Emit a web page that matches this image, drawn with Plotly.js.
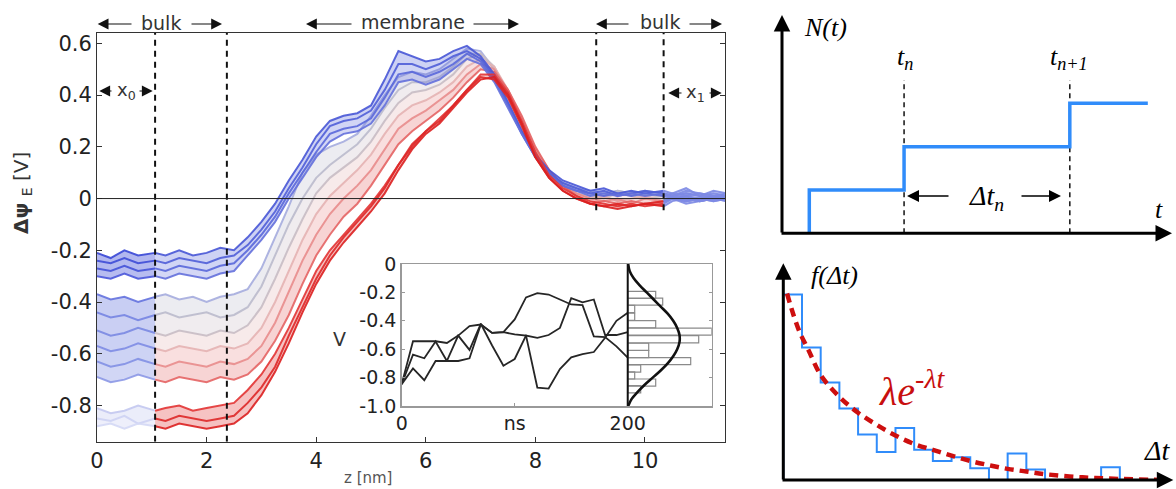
<!DOCTYPE html>
<html><head><meta charset="utf-8">
<script src="https://cdn.plot.ly/plotly-3.0.1.min.js"></script>
<style>html,body{margin:0;padding:0;background:#fff}#plot{width:1176px;height:489px}</style>
</head><body><div id="plot"></div>
<script>
// ================= DATA =================
// main panel: potential profiles along z [nm]
const zGrid = [0,0.25,0.5,0.75,1.06,1.25,1.5,1.75,2,2.25,2.5,2.75,3,3.25,3.5,3.75,4,4.25,4.5,4.75,5,5.25,5.5,5.75,6,6.25,6.5,6.75,7,7.25,7.5,7.75,8,8.25,8.5,8.75,9,9.25,9.5,9.75,10,10.34,10.5,10.75,11,11.25,11.5];
const curveB1 = [-0.21,-0.23,-0.20,-0.22,-0.21, -0.22,-0.20,-0.22,-0.21,-0.19,-0.20, -0.15,-0.09,-0.02,0.07, 0.15,0.24,0.30,0.32, 0.33,0.36,0.46,0.57, 0.55,0.53,0.54,0.57, 0.59,0.55,0.48,0.37, 0.26,0.17,0.11,0.07, 0.05,0.03,0.04,0.02, 0.03,0.02,0.03,0.02, 0.04,0.01,0.03,0.02];
const curveB2 = [-0.24,-0.25,-0.23,-0.25,-0.24, -0.25,-0.23,-0.24,-0.25,-0.23,-0.22, -0.18,-0.12,-0.05,0.04, 0.12,0.21,0.28,0.30, 0.31,0.34,0.42,0.52, 0.52,0.50,0.52,0.55, 0.57,0.54,0.47,0.37, 0.26,0.17,0.10,0.06, 0.04,0.02,0.03,0.01, 0.02,0.03,0.02,0.01, 0.03,0.02,0.01,0.02];
const curveB3 = [-0.27,-0.28,-0.26,-0.28,-0.27, -0.28,-0.26,-0.27,-0.28,-0.26,-0.25, -0.20,-0.14,-0.07,0.02, 0.10,0.18,0.25,0.27, 0.28,0.31,0.39,0.48, 0.49,0.47,0.49,0.52, 0.56,0.53,0.46,0.36, 0.25,0.16,0.10,0.05, 0.03,0.02,0.01,0.02, 0.01,0.02,0.01,0.02, 0.01,0.02,0.01,0.01];
const curveB4 = [-0.30,-0.31,-0.29,-0.31,-0.30, -0.31,-0.29,-0.30,-0.31,-0.29,-0.28, -0.22,-0.16,-0.09,0.00, 0.08,0.16,0.22,0.25, 0.26,0.29,0.36,0.45, 0.46,0.44,0.46,0.50, 0.54,0.52,0.45,0.35, 0.25,0.16,0.09,0.05, 0.03,0.01,0.02,0.01, 0.02,0.01,0.02,0.01, 0.02,0.01,0.00,0.01];
const curveG1 = [-0.37,-0.39,-0.38,-0.40,-0.38, -0.37,-0.39,-0.38,-0.40,-0.38,-0.37, -0.35,-0.27,-0.15,-0.03, 0.10,0.17,0.20,0.22, 0.25,0.32,0.40,0.47, 0.49,0.48,0.50,0.54, 0.58,0.57,0.50,0.38, 0.26,0.16,0.10,0.06, 0.04,0.03,0.02,0.03, 0.02,0.03,0.02,0.01, 0.02,0.01,0.02,0.01];
const curveG2 = [-0.44,-0.46,-0.45,-0.47,-0.45, -0.44,-0.46,-0.45,-0.44,-0.46,-0.45, -0.42,-0.34,-0.22,-0.10, 0.00,0.08,0.13,0.17, 0.21,0.27,0.35,0.42, 0.45,0.45,0.47,0.51, 0.56,0.56,0.50,0.39, 0.27,0.17,0.10,0.06, 0.03,0.02,0.01,0.03, 0.02,0.01,0.02,0.00, 0.01,0.00,0.01,0.00];
const curveG3 = [-0.51,-0.53,-0.52,-0.50,-0.52, -0.53,-0.51,-0.52,-0.53,-0.51,-0.52, -0.49,-0.42,-0.31,-0.19, -0.08,0.02,0.08,0.12, 0.16,0.22,0.30,0.37, 0.41,0.42,0.44,0.48, 0.54,0.56,0.51,0.41, 0.29,0.18,0.11,0.05, 0.02,0.01,0.00,0.02, 0.01,0.00,0.01,0.00, -0.01,0.00,0.01,-0.01];
const curveP1 = [-0.57,-0.59,-0.58,-0.56,-0.58, -0.59,-0.57,-0.58,-0.59,-0.57,-0.58, -0.56,-0.50,-0.40,-0.28, -0.16,-0.06,0.01,0.06, 0.11,0.17,0.25,0.32, 0.36,0.38,0.41,0.45, 0.51,0.54,0.51,0.42, 0.30,0.19,0.11,0.05, 0.02,0.00,0.01,-0.01, 0.00,0.01,-0.01,0.00, 0.01,-0.01,0.00,0.01];
const curveP2 = [-0.63,-0.65,-0.64,-0.62,-0.64, -0.65,-0.63,-0.64,-0.65,-0.63,-0.64, -0.62,-0.57,-0.48,-0.36, -0.24,-0.14,-0.06,0.00, 0.05,0.11,0.19,0.27, 0.31,0.34,0.38,0.42, 0.48,0.52,0.50,0.42, 0.31,0.19,0.11,0.05, 0.02,0.00,-0.01,0.00, -0.02,0.00,-0.01,0.00, -0.01,0.00,-0.01,0.00];
const curveP3 = [-0.69,-0.71,-0.70,-0.68,-0.70, -0.71,-0.69,-0.70,-0.71,-0.69,-0.70, -0.68,-0.63,-0.55,-0.45, -0.33,-0.22,-0.14,-0.07, -0.02,0.05,0.13,0.21, 0.26,0.30,0.34,0.39, 0.45,0.50,0.49,0.42, 0.32,0.20,0.11,0.05, 0.01,-0.02,-0.01,-0.02, -0.01,-0.02,-0.01,0.00, -0.02,-0.01,0.00,-0.01];
const curveR1 = [-0.81,-0.83,-0.82,-0.80,-0.82, -0.81,-0.80,-0.82,-0.81,-0.80,-0.79, -0.74,-0.68,-0.60,-0.50, -0.39,-0.28,-0.20,-0.14, -0.08,-0.02,0.05,0.13, 0.20,0.26,0.31,0.36, 0.42,0.48,0.48,0.41, 0.30,0.18,0.09,0.04, 0.01,-0.01,-0.02,-0.03, -0.02,-0.03,-0.02,0.00, -0.01,0.00,-0.01,0.00];
const curveR2 = [-0.85,-0.86,-0.84,-0.87,-0.85, -0.86,-0.84,-0.85,-0.86,-0.85,-0.84, -0.79,-0.73,-0.65,-0.53, -0.42,-0.31,-0.22,-0.15, -0.09,-0.03,0.04,0.13, 0.21,0.26,0.30,0.36, 0.42,0.47,0.46,0.39, 0.28,0.16,0.08,0.03, 0.00,-0.02,-0.03,-0.02, -0.03,-0.02,-0.01,0.01, 0.00,-0.01,0.00,0.01];
const curveR3 = [-0.88,-0.87,-0.89,-0.87,-0.88, -0.89,-0.87,-0.88,-0.89,-0.88,-0.87, -0.83,-0.76,-0.67,-0.56, -0.44,-0.33,-0.24,-0.17, -0.11,-0.05,0.02,0.11, 0.19,0.25,0.29,0.35, 0.41,0.46,0.47,0.40, 0.29,0.16,0.08,0.03, 0.00,-0.02,-0.03,-0.04, -0.03,-0.02,-0.03,-0.01, 0.00,-0.01,0.00,-0.01];
const regionBounds = [1.06, 2.37, 9.11, 10.34];
const regionLineBottoms = [-0.94, -0.94, -0.045, -0.045];
const mainXTicks = [0,2,4,6,8,10];
const mainYTicks = [-0.8,-0.6,-0.4,-0.2,0,0.2,0.4,0.6];
const mainYTickText = ['-0.8','-0.6','-0.4','-0.2','0','0.2','0.4','0.6'];

// inset: three runs vs time [ns] and histogram of V
const insetNs = [0,10,20,30,40,50,60,70,80,90,100,110,120,130,140,150,160,170,180,190,200];
const insetRunA = [-0.846,-0.544,-0.544,-0.544,-0.556,-0.504,-0.437,-0.426,-0.485,-0.480,-0.39,-0.235,-0.205,-0.215,-0.25,-0.285,-0.29,-0.51,-0.515,-0.58,-0.66];
const insetRunB = [-0.846,-0.638,-0.664,-0.546,-0.683,-0.504,-0.605,-0.421,-0.574,-0.716,-0.669,-0.504,-0.52,-0.50,-0.45,-0.24,-0.27,-0.25,-0.50,-0.50,-0.48];
const insetRunC = [-0.846,-0.735,-0.818,-0.683,-0.683,-0.683,-0.664,-0.426,-0.485,-0.48,-0.496,-0.504,-0.87,-0.877,-0.74,-0.657,-0.634,-0.62,-0.52,-0.40,-0.343];
const insetBinCenters = [-0.218,-0.265,-0.317,-0.372,-0.424,-0.476,-0.530,-0.583,-0.634,-0.684,-0.736,-0.785,-0.835,-0.882];
const insetBinCounts = [28,35,7,7,28,84,71,21,21,63,13,7,28,13];
const insetFitV = [0,-0.05,-0.1,-0.15,-0.2,-0.25,-0.3,-0.35,-0.4,-0.45,-0.5,-0.55,-0.6,-0.65,-0.7,-0.75,-0.8,-0.85,-0.9,-0.95,-1.0];
const insetFitX = [0.5,2,6,12,19,26,33,40,45.5,49.5,51.8,51.8,49.5,45.5,40,33,25,17,10,4,0.5];
const insetXTicks = [0,100,200];
const insetXTickText = ['0','ns','200'];
const insetYTicks = [0,-0.2,-0.4,-0.6,-0.8,-1.0];
const insetYTickText = ['0','-0.2','-0.4','-0.6','-0.8','-1.0'];

// right top: counting process N(t)
const eventTimes = [0.70, 3.13, 7.38];
const stepLevels = [1, 2, 3];
const stepEnd = 9.38;

// right bottom: waiting-time histogram and exponential fit
const histCounts = [35.0,25.0,18.4,13.5,8.6,5.3,9.8,5.7,3.6,4.3,2.2,0,5.0,2.0,0,0,0,2.4];
const fitT = [0.2,0.55,0.9,1.35,2,3,4,5,6,7,8,9,10,11,12,13,14,16,18,20.2];
const fitF = [35.2,31.1,27.7,24.5,19.8,15.7,12.7,10.4,8.4,6.8,5.7,4.6,3.6,2.8,2.1,1.6,1.1,0.5,0.2,0];

// ================= DRAWING =================
const W = 1176, H = 489;
const SANS = 'DejaVu Sans, Open Sans, sans-serif';
const SERIF = 'Liberation Serif, DejaVu Serif, serif';
const fx = p => p / W, fy = p => 1 - p / H;

const curveData = {B1:curveB1,B2:curveB2,B3:curveB3,B4:curveB4,G1:curveG1,G2:curveG2,G3:curveG3,P1:curveP1,P2:curveP2,P3:curveP3,R1:curveR1,R2:curveR2,R3:curveR3};
const lineStyle = {
  B1:{main:[72,86,214],left:[58,72,214]}, B2:{main:[80,94,216],left:[62,76,214]},
  B3:{main:[90,104,218],left:[68,82,216]}, B4:{main:[100,112,220],left:[75,88,218]},
  G1:{main:[165,172,222],left:[100,114,222]}, G2:{main:[186,186,204],left:[118,132,226]},
  G3:{main:[200,188,196],left:[122,136,226]}, P1:{main:[228,178,178],left:[126,140,228]},
  P2:{main:[232,140,140],left:[130,144,228]}, P3:{main:[228,100,100],left:[140,152,230]},
  R1:{main:[226,52,52],left:[195,200,240]}, R2:{main:[222,40,40],left:[205,209,243]},
  R3:{main:[220,32,32],left:[212,216,245]}
};
const rightCol = [125,138,228];
const segs = {left:[0,4], main:[4,41], right:[41,46]};
const drawOrder = [['G1','G2','G3','P1','P2','P3'], ['B1','B2','B3','B4'], ['R1','R2','R3']];
const rgba = (c,a) => `rgba(${c[0]},${c[1]},${c[2]},${a})`;

const traces = [];
drawOrder.forEach(grp => {
  ['left','main','right'].forEach(seg => {
    grp.forEach((name,k) => {
      const [a,b] = segs[seg];
      const c = seg === 'right' ? rightCol : lineStyle[name][seg];
      traces.push({
        type:'scatter', mode:'lines', xaxis:'x', yaxis:'y',
        x: zGrid.slice(a,b+1), y: curveData[name].slice(a,b+1),
        line:{color: rgba(c, 0.9), width: 2},
        fill: k === 0 ? 'none' : 'tonexty',
        fillcolor: rgba(c, seg === 'main' ? 0.28 : 0.4),
        hoverinfo:'skip', showlegend:false
      });
    });
  });
});

// inset runs
[insetRunA, insetRunB, insetRunC].forEach(r => traces.push({
  type:'scatter', mode:'lines', xaxis:'x2', yaxis:'y2', x: insetNs, y: r,
  line:{color:'#262626', width:1.8}, hoverinfo:'skip', showlegend:false
}));
// inset histogram
traces.push({
  type:'bar', orientation:'h', xaxis:'x3', yaxis:'y2', y: insetBinCenters, x: insetBinCounts,
  width: 0.05, marker:{color:'rgba(255,255,255,0)', line:{color:'#8a8a8a', width:1.2}},
  hoverinfo:'skip', showlegend:false
});
traces.push({
  type:'scatter', mode:'lines', xaxis:'x3', yaxis:'y2', x: insetFitX, y: insetFitV,
  line:{color:'#111', width:2.6, shape:'spline'}, hoverinfo:'skip', showlegend:false
});

// step function N(t)
traces.push({
  type:'scatter', mode:'lines', xaxis:'x4', yaxis:'y4',
  x: [eventTimes[0], ...eventTimes, stepEnd], y: [0, ...stepLevels, stepLevels[stepLevels.length-1]],
  line:{color:'rgb(48,140,250)', width:3.5, shape:'hv'}, hoverinfo:'skip', showlegend:false
});

// histogram outline of waiting times
const histX = [0], histY = [0];
histCounts.forEach((c,i) => { histX.push(i); histY.push(c); });
histX.push(histCounts.length); histY.push(0);
traces.push({
  type:'scatter', mode:'lines', xaxis:'x5', yaxis:'y5', x: histX, y: histY,
  line:{color:'rgb(48,140,250)', width:2, shape:'hv'}, hoverinfo:'skip', showlegend:false
});
traces.push({
  type:'scatter', mode:'lines', xaxis:'x5', yaxis:'y5', x: fitT, y: fitF,
  line:{color:'rgb(205,15,15)', width:4.5, dash:'9px,6px', shape:'spline'}, hoverinfo:'skip', showlegend:false
});

// ---------- shapes ----------
const shapes = [];
regionBounds.forEach((b,i) => shapes.push({type:'line', xref:'x', yref:'y', x0:b, x1:b, y0:regionLineBottoms[i], y1:0.64,
  line:{color:'#111', width:2, dash:'6px,5px'}, layer:'above'}));
shapes.push({type:'line', xref:'x', yref:'y', x0:0, x1:11.46, y0:0, y1:0, line:{color:'#222', width:1}, layer:'above'});
shapes.push({type:'line', xref:'x2', yref:'y2', x0:200, x1:200, y0:-1, y1:0, line:{color:'#111', width:2}, layer:'above'});
eventTimes.slice(1).forEach(t => shapes.push({type:'line', xref:'x4', yref:'y4', x0:t, x1:t, y0:0, y1:3.54,
  line:{color:'#111', width:1.5, dash:'5px,4px'}, layer:'below'}));

// ---------- annotations ----------
const ann = [];
const txt = (x,y,text,size,extra) => Object.assign({xref:'paper', yref:'paper', x:fx(x), y:fy(y), text,
  showarrow:false, xanchor:'center', yanchor:'middle', font:{family:SANS, size, color:'#333'}}, extra||{});
const arr = (hx,hy,tx,ty,w,s,col) => ({xref:'paper', yref:'paper', x:fx(hx), y:fy(hy), ax:tx-hx, ay:ty-hy,
  axref:'pixel', ayref:'pixel', text:'', showarrow:true, arrowhead:2, arrowsize:s, arrowwidth:w, arrowcolor:col||'#111', standoff:0});

ann.push(txt(161,23,'bulk',19), txt(413,22,'membrane',19), txt(660,22,'bulk',19));
ann.push(arr(97.7,24,133,24,1.2,1.8), arr(222,24,190,24,1.2,1.8), arr(306,24,353,24,1.2,1.8),
         arr(519,24,472,24,1.2,1.8), arr(596,24,630,24,1.2,1.8), arr(722,24,688,24,1.2,1.8));
ann.push(txt(126,91,'x<sub>0</sub>',18), arr(99.3,91,113,91,1.2,1.8), arr(152.7,91,138,91,1.2,1.8));
ann.push(txt(695,93,'x<sub>1</sub>',18), arr(668.3,93,683,93,1.2,1.8), arr(721.7,93,708,93,1.2,1.8));
ann.push(txt(22,193,'<b>Δψ</b> <sub>E</sub> [V]',20,{textangle:-90}));
ann.push(txt(368,478,'z [nm]',15,{font:{family:SANS,size:15,color:'#555'}}));
ann.push(txt(339,339,'V',19));

// right top
ann.push(arr(782,15,782,234,3,1.1,'#000'), arr(1172,233.3,780,233.3,3,1.1,'#000'));
ann.push(txt(826,27,'<i>N(t)</i>',26,{font:{family:SERIF,size:26,color:'#000'}}));
ann.push(txt(905,58,'<i>t<sub>n</sub></i>',26,{font:{family:SERIF,size:26,color:'#000'}}));
ann.push(txt(1069,58,'<i>t<sub>n+1</sub></i>',26,{font:{family:SERIF,size:26,color:'#000'}}));
ann.push(txt(1159,210,'<i>t</i>',26,{font:{family:SERIF,size:26,color:'#000'}}));
ann.push(txt(986,197,'<i>Δt<sub>n</sub></i>',28,{font:{family:SERIF,size:28,color:'#000'}}));
ann.push(arr(907,196,950,196,1.5,1.6,'#000'), arr(1061,196,1020,196,1.5,1.6,'#000'));
// right bottom
ann.push(arr(783.3,263.3,783.3,481,3,1.1,'#000'), arr(1173.3,480,781,480,3,1.1,'#000'));
ann.push(txt(834,275,'<i>f(Δt)</i>',26,{font:{family:SERIF,size:26,color:'#000'}}));
ann.push(txt(1157,450,'<i>Δt</i>',28,{font:{family:SERIF,size:28,color:'#000'}}));
ann.push(txt(912,388,'<i>λe<sup>-λt</sup></i>',40,{font:{family:SERIF,size:40,color:'rgb(200,15,15)'}}));

const layout = {
  width:W, height:H, autosize:false, margin:{l:0,r:0,t:0,b:0},
  paper_bgcolor:'#fff', plot_bgcolor:'rgba(0,0,0,0)', showlegend:false,
  xaxis:{domain:[fx(97),fx(725)], range:[0,11.46], anchor:'y', tickvals:mainXTicks, ticks:'inside', ticklen:5,
    tickcolor:'#333', showline:true, linecolor:'#333', linewidth:1, mirror:true, showgrid:false, zeroline:false,
    tickfont:{family:SANS, size:21, color:'#222'}, automargin:false},
  yaxis:{domain:[fy(441.7),fy(33)], range:[-0.94,0.64], anchor:'x', tickvals:mainYTicks, ticktext:mainYTickText,
    ticks:'inside', ticklen:5, tickcolor:'#333', showline:true, linecolor:'#333', linewidth:1, mirror:'ticks',
    showgrid:false, zeroline:false, tickfont:{family:SANS, size:21, color:'#222'}, automargin:false},
  xaxis2:{domain:[fx(401.7),fx(711.7)], range:[0,274.3], anchor:'y2', tickvals:insetXTicks, ticktext:insetXTickText,
    ticks:'inside', ticklen:3, tickcolor:'#999', showline:true, linecolor:'#999', linewidth:1.5, mirror:true,
    showgrid:false, zeroline:false, tickfont:{family:SANS, size:19, color:'#222'}, automargin:false},
  yaxis2:{domain:[fy(406),fy(264)], range:[-1,0], anchor:'x2', tickvals:insetYTicks, ticktext:insetYTickText,
    ticks:'inside', ticklen:3, tickcolor:'#999', showline:true, linecolor:'#999', linewidth:1.5, mirror:'ticks',
    showgrid:false, zeroline:false, tickfont:{family:SANS, size:19, color:'#222'}, automargin:false},
  xaxis3:{domain:[fx(627.7),fx(711.7)], range:[0,84], anchor:'y2', visible:false},
  xaxis4:{domain:[fx(782),fx(1172)], range:[0,10], anchor:'y4', visible:false},
  yaxis4:{domain:[fy(233.3),fy(15)], range:[0,5.04], anchor:'x4', visible:false},
  xaxis5:{domain:[fx(783.3),fx(1173.3)], range:[0,20.86], anchor:'y5', visible:false},
  yaxis5:{domain:[fy(480),fy(263.3)], range:[0,40.9], anchor:'x5', visible:false},
  shapes, annotations: ann, bargap:0
};
Plotly.newPlot('plot', traces, layout, {displayModeBar:false, staticPlot:true});
</script></body></html>
